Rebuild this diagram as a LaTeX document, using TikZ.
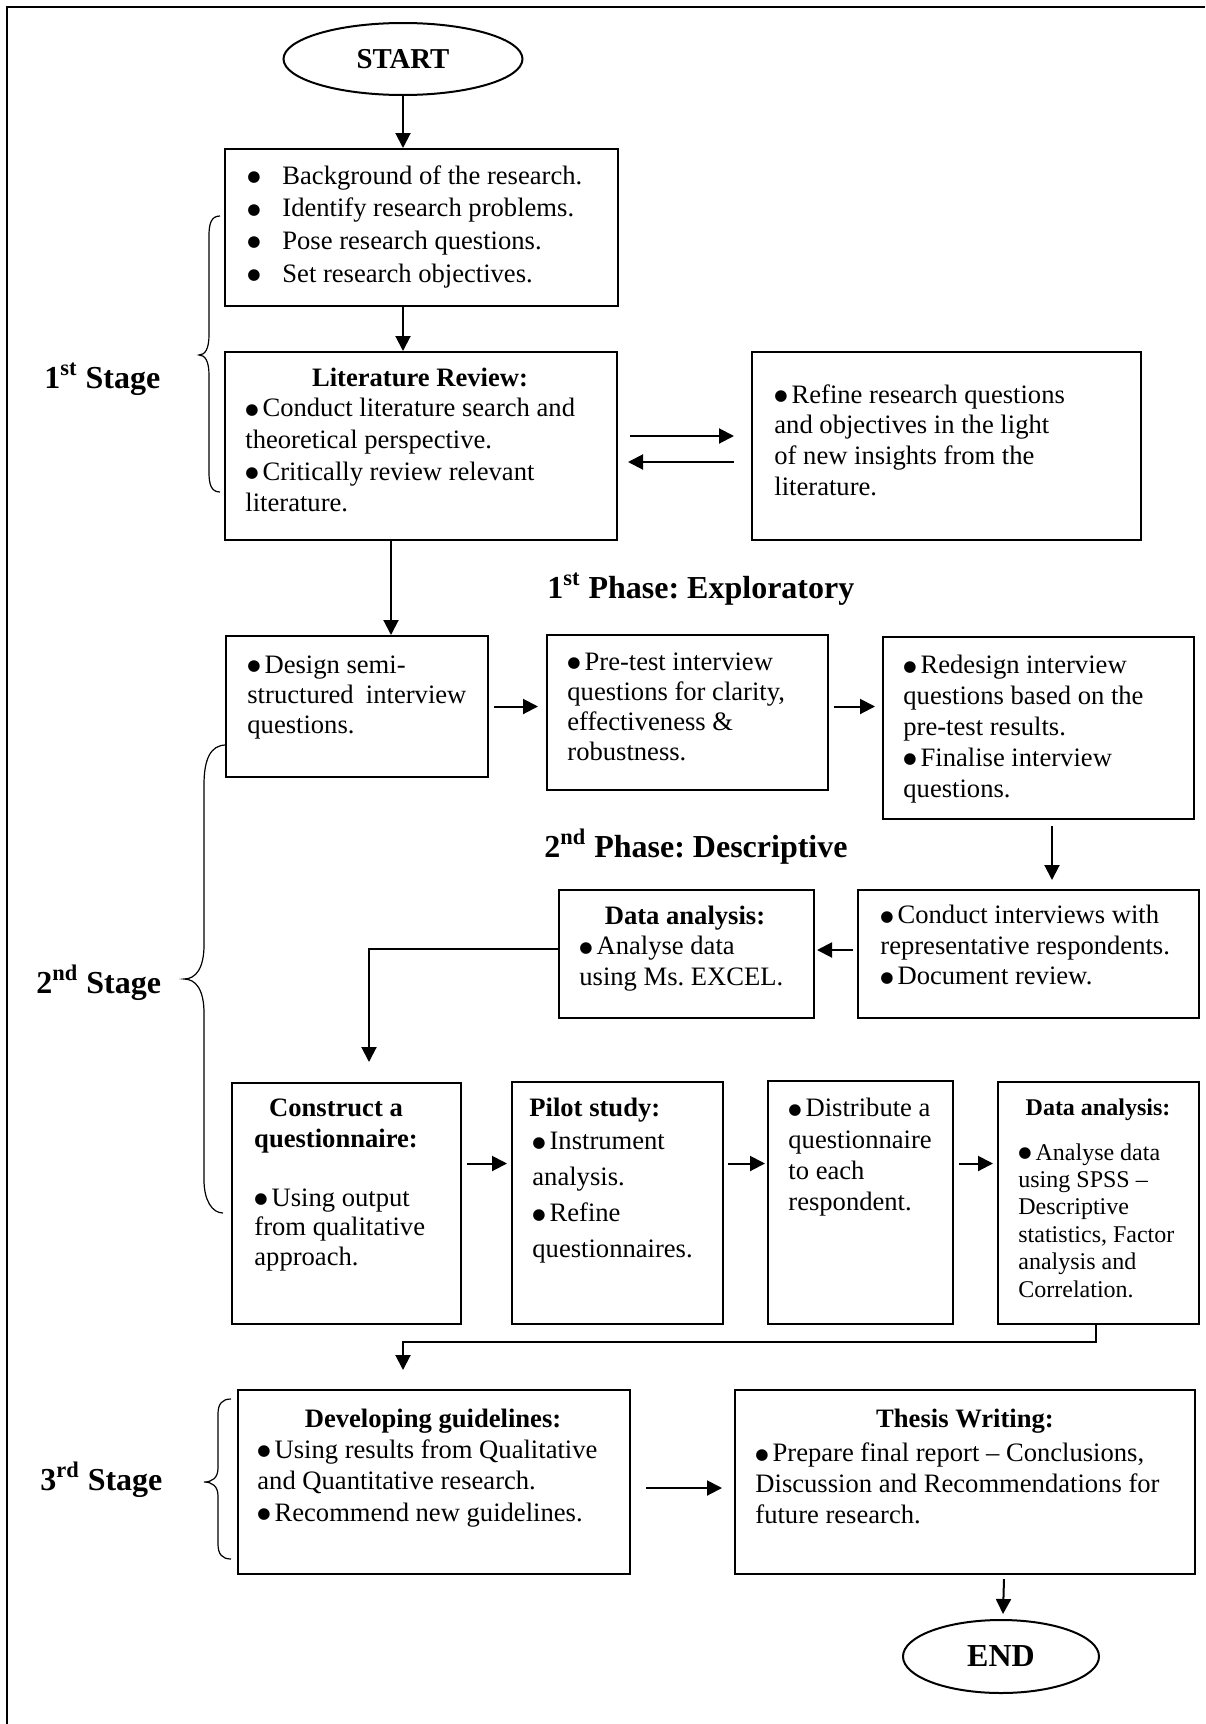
\documentclass[tikz,border=0pt]{standalone}
\usepackage{fontspec}
\setmainfont{Liberation Serif}
\newfontfamily\symfont{DejaVu Sans}
\usetikzlibrary{shapes.geometric,arrows.meta,calc}
\frenchspacing
% a heavier bullet, followed by its own fixed gap
\newcommand\bul{\makebox[8.6pt][l]{\raisebox{1.3pt}{\symfont\fontsize{7.6}{8}\selectfont ●}}}

\begin{document}
\begin{tikzpicture}[x=0.5pt,y=-0.5pt,
  box/.style={draw, line width=1pt, anchor=north west, inner sep=0pt},
  oval/.style={draw, ellipse, line width=1pt, inner sep=0pt, font=\bfseries\fontsize{14.4}{17}\selectfont},
  tx/.style={anchor=north west, inner sep=0pt, align=left, font=\fontsize{13.3}{#1}\selectfont, execute at begin node=\strut},
  hd/.style={anchor=north, inner sep=0pt, align=center, font=\fontsize{13.3}{#1}\selectfont\bfseries, execute at begin node=\strut},
  lbl/.style={anchor=base west, inner sep=0pt, font=\fontsize{16}{19}\selectfont\bfseries},
  arr/.style={line width=1pt, -{Triangle[length=7.5pt,width=7.5pt]}},
  brace/.style={line width=0.6pt},
]
\useasboundingbox (0,0) rectangle (1205,1724);

% page frame (top and left edges)
\draw[line width=1pt] (1205,7) -- (7,7) -- (7,1724);

% ---------- 1st stage ----------
\node[oval, minimum width=119.5pt, minimum height=36pt] (startnode) at (403,59) {START};

\node[box, minimum width=196.5pt, minimum height=78.5pt] (b1) at (224,148) {};
\node[tx=16.35] (t1) at (247,165) {\makebox[17.5pt][l]{\bul}Background of the research.\\
\makebox[17.5pt][l]{\bul}Identify research problems.\\
\makebox[17.5pt][l]{\bul}Pose research questions.\\
\makebox[17.5pt][l]{\bul}Set research objectives.};

\node[box, minimum width=196pt, minimum height=94pt] (b2) at (224,351) {};
\node[hd=15.85] (h2) at (420,364) {Literature Review:};
\node[tx=15.85] (t2) at (245,398) {\bul Conduct literature search and\\
theoretical perspective.\\
\bul Critically review relevant\\
literature.};

\node[box, minimum width=194.5pt, minimum height=94pt] (bR) at (751,351) {};
\node[tx=15.35] (tR) at (774,384) {\bul Refine research questions\\
and objectives in the light\\
of new insights from the\\
literature.};

\node[lbl] (s1) at (44,388) {1\textsuperscript{st} Stage};

% ---------- 2nd stage: exploratory phase ----------
\node[lbl] (p1) at (547,598) {1\textsuperscript{st} Phase: Exploratory};

\node[box, minimum width=131pt, minimum height=70.5pt] (bD) at (225,635) {};
\node[tx=15] (tD) at (247,655) {\bul Design semi-\\
\makebox[109.5pt][s]{structured interview}\\
questions.};

\node[box, minimum width=140.5pt, minimum height=77.5pt] (bP) at (546,634) {};
\node[tx=15] (tP) at (567,652) {\bul Pre-test interview\\
questions for clarity,\\
effectiveness \&\\
robustness.};

\node[box, minimum width=155.5pt, minimum height=91pt] (bRd) at (882,636) {};
\node[tx=15.4] (tRd) at (903,655) {\bul Redesign interview\\
questions based on the\\
pre-test results.\\
\bul Finalise interview\\
questions.};

% ---------- 2nd stage: descriptive phase ----------
\node[lbl] (p2) at (544,857) {2\textsuperscript{nd} Phase: Descriptive};

\node[box, minimum width=170.5pt, minimum height=64pt] (bC) at (857,889) {};
\node[tx=15.25] (tC) at (880,905) {\bul Conduct interviews with\\
representative respondents.\\
\bul Document review.};

\node[box, minimum width=127.5pt, minimum height=64pt] (bE) at (558,889) {};
\node[hd=15.5] (hE) at (685,902) {Data analysis:};
\node[tx=15.5] (tE) at (579,936) {\bul Analyse data\\
using Ms. EXCEL.};

\node[box, minimum width=114.5pt, minimum height=120.5pt] (bQ) at (231,1082) {};
\node[hd=15.5] (hQ) at (336,1098.5) {Construct a\\questionnaire:};
\node[tx=14.75] (tQ) at (254,1188) {\bul Using output\\
from qualitative\\
approach.};

\node[box, minimum width=105.5pt, minimum height=121pt] (bPi) at (511,1081) {};
\node[tx=15.5] (hPi) at (529,1094.3) {\bfseries Pilot study:};
\node[tx=18] (tPi) at (532,1132) {\bul Instrument\\
analysis.\\
\bul Refine\\
questionnaires.};

\node[box, minimum width=92.5pt, minimum height=121.5pt] (bDi) at (767,1080) {};
\node[tx=15.65] (tDi) at (788,1098) {\bul Distribute a\\
questionnaire\\
to each\\
respondent.};

\node[box, minimum width=100.5pt, minimum height=121pt] (bDA) at (997,1081) {};
\node[hd=13.7, font=\fontsize{12}{13.7}\selectfont\bfseries] (hDA) at (1098,1096) {Data analysis:};
\node[tx=13.7, font=\fontsize{12}{13.7}\selectfont] (tDA) at (1018,1143) {\bul Analyse data\\
using SPSS –\\
Descriptive\\
statistics, Factor\\
analysis and\\
Correlation.};

\node[lbl] (s2) at (36,993) {2\textsuperscript{nd} Stage};

% ---------- 3rd stage ----------
\node[box, minimum width=196pt, minimum height=92pt] (bG) at (237,1389) {};
\node[hd=15.75] (hG) at (433,1405) {Developing guidelines:};
\node[tx=15.75] (tG) at (257,1439) {\bul Using results from Qualitative\\
and Quantitative research.\\
\bul Recommend new guidelines.};

\node[box, minimum width=230pt, minimum height=92pt] (bT) at (734,1389) {};
\node[hd=15.5] (hT) at (965,1405.5) {Thesis Writing:};
\node[tx=15.5] (tT) at (755,1442.5) {\bul Prepare final report – Conclusions,\\
Discussion and Recommendations for\\
future research.};

\node[lbl] (s3) at (40,1490) {3\textsuperscript{rd} Stage};

\node[oval, minimum width=98pt, minimum height=36.5pt, font=\bfseries\fontsize{16}{19}\selectfont] (endnode) at (1001,1656.5) {END};

% ---------- connectors ----------
\draw[arr] (startnode.south) -- (startnode.south |- b1.north);
\draw[arr] (startnode.south |- b1.south) -- (startnode.south |- b2.north);
\draw[arr] ($(b2.east)+(12,-10)$) -- ($(bR.west)+(-17,-10)$);
\draw[arr] ($(bR.west)+(-17,16)$) -- ($(b2.east)+(10,16)$);
\coordinate (c1) at ($(b2.south)+(-30,0)$);
\draw[arr] (c1) -- (c1 |- bD.north);
\draw[arr] ($(bD.east)+(5,0)$) -- ($(bD.east -| bP.west)+(-8,0)$);
\draw[arr] ($(bD.east -| bP.east)+(5,0)$) -- ($(bD.east -| bRd.west)+(-7,0)$);
\coordinate (c2) at ($(bRd.south)+(13.5,6)$);
\draw[arr] (c2) -- ($(c2 |- bC.north)+(0,-9)$);
\draw[arr] ($(bC.west)+(-4,-4)$) -- ($(bE.east)+(2,-4)$);
\draw[arr] ($(bE.west)+(0,-5)$) -| ($(bQ.north)+(22.5,-20)$);
\draw[arr] ($(bQ.east)+(5,-40)$) -- ($(bQ.east -| bPi.west)+(-4,-40)$);
\draw[arr] ($(bQ.east -| bPi.east)+(4,-40)$) -- ($(bQ.east -| bDi.west)+(-2,-40)$);
\draw[arr] ($(bQ.east -| bDi.east)+(5,-40)$) -- ($(bQ.east -| bDA.west)+(-4,-40)$);
\coordinate (c3) at ($(bDA.south)+(-2.5,0)$);
\draw[arr] (c3) -- ++(0,17) -| ($(bG.north)+(-31,-19)$);
\draw[arr] ($(bG.east)+(15,6)$) -- ($(bG.east -| bT.west)+(-12,6)$);
\draw[arr] ($(bT.south)+(39,4)$) -- ($(endnode.north)+(2,-5)$);

% ---------- stage braces ----------
\draw[brace] (220,216) .. controls (211,216) and (209,224) .. (209,236) -- (209,335)
  .. controls (209,349) and (205,355) .. (199,355)
  .. controls (205,355) and (209,361) .. (209,375) -- (209,472)
  .. controls (209,484) and (211,492) .. (220,492);
\draw[brace] (226,745) .. controls (210,745) and (204,760) .. (204,785) -- (204,945)
  .. controls (204,968) and (196,979) .. (184,979)
  .. controls (196,979) and (204,990) .. (204,1013) -- (204,1180)
  .. controls (204,1200) and (212,1213) .. (223,1213);
\draw[brace] (231,1399) .. controls (222,1399) and (218,1404) .. (218,1414) -- (218,1468)
  .. controls (218,1478) and (212,1482) .. (204,1482)
  .. controls (212,1482) and (218,1486) .. (218,1496) -- (218,1544)
  .. controls (218,1554) and (222,1559) .. (231,1559);
\end{tikzpicture}
\end{document}
